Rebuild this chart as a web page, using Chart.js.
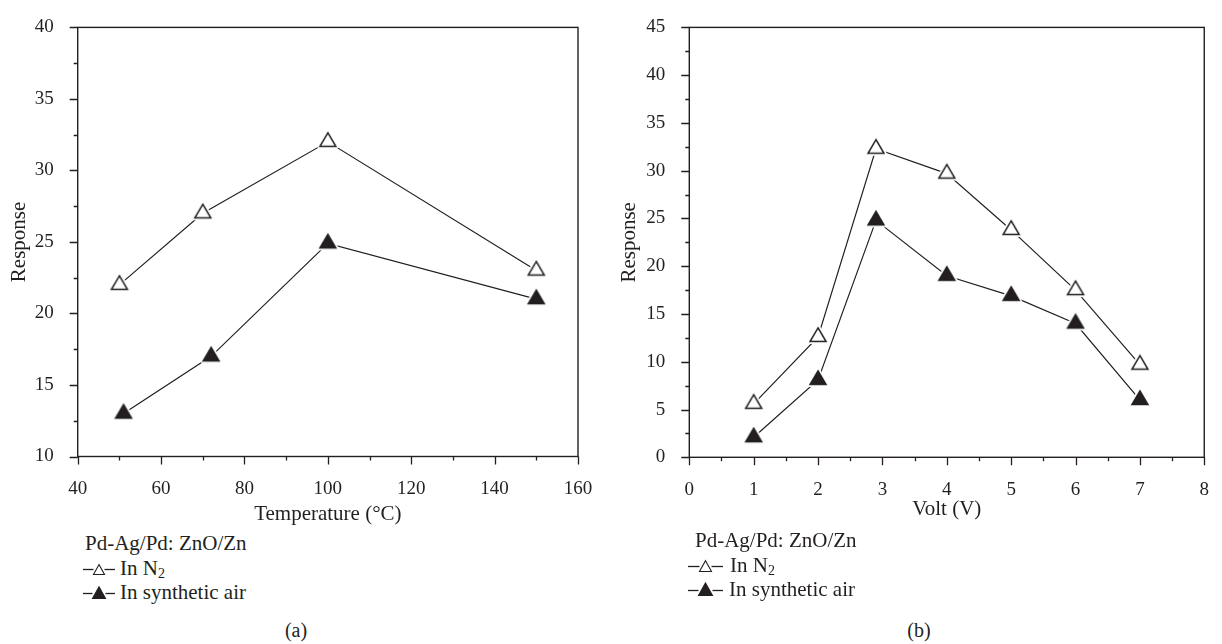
<!DOCTYPE html>
<html lang="en">
<head>
<meta charset="UTF-8">
<title>Response of Pd-Ag/Pd: ZnO/Zn sensor</title>
<script src="https://cdn.jsdelivr.net/npm/chart.js@4.4.1/dist/chart.umd.min.js"></script>
<style>
body{margin:0;background:#fff;width:1222px;height:644px;position:relative;overflow:hidden;font-family:"Liberation Serif","Times New Roman",serif;color:#231f20}
.panel{position:absolute;top:0;height:530px}
#panel-a{left:0;width:610px}
#panel-b{left:610px;width:612px}
.row{position:absolute;font-size:21px;line-height:24.5px;white-space:nowrap}
.row svg{display:inline-block;vertical-align:0}
.row sub{font-size:14px;vertical-align:-3px;line-height:0}
.caption{position:absolute;top:618px;font-size:20px;line-height:24px;transform:translateX(-50%)}
</style>
</head>
<body>
<div class="panel" id="panel-a"><canvas id="chart-a"></canvas></div>
<div class="panel" id="panel-b"><canvas id="chart-b"></canvas></div>

<div class="row" style="left:85px;top:530.5px">Pd-Ag/Pd: ZnO/Zn</div>
<div class="row" style="left:83px;top:555.5px" data-sym="open" data-w="32" data-t="11" data-gap="5">In N<sub>2</sub></div>
<div class="row" style="left:83px;top:579.5px" data-sym="filled" data-w="32" data-t="13" data-gap="5">In synthetic air</div>

<div class="row" style="left:695px;top:528.2px">Pd-Ag/Pd: ZnO/Zn</div>
<div class="row" style="left:688px;top:552.8px" data-sym="open" data-w="35" data-t="12" data-gap="7">In N<sub>2</sub></div>
<div class="row" style="left:688px;top:577.2px" data-sym="filled" data-w="35" data-t="14" data-gap="6">In synthetic air</div>

<div class="caption" style="left:296px">(a)</div>
<div class="caption" style="left:919px">(b)</div>

<script>
const INK = '#231f20';

// (a) response vs operating temperature
const tempN2X = [50, 70, 100, 150];
const tempN2Y = [22, 27, 32, 23];
const tempAirX = [51, 72, 100, 150];
const tempAirY = [13, 17, 24.9, 21];

// (b) response vs applied voltage
const voltN2X = [1, 2, 2.9, 4, 5, 6, 7];
const voltN2Y = [5.6, 12.6, 32.3, 29.7, 23.8, 17.5, 9.7];
const voltAirX = [1, 2, 2.9, 4, 5, 6, 7];
const voltAirY = [2.1, 8.1, 24.8, 19.0, 16.9, 14.0, 6.0];

const seriesLabels = ['In N2', 'In synthetic air'];

function pts(xs, ys){ return xs.map((x, i) => ({x: x, y: ys[i]})); }

// triangle marker with a white halo so the connecting line stops short of it
function triangleMarker(filled){
  const c = document.createElement('canvas');
  c.width = 28; c.height = 28;
  const g = c.getContext('2d');
  const w = 16, h = 13.6, cx = 14, cy = 14;
  const top = cy - h * 2 / 3, base = cy + h / 3;
  g.beginPath();
  g.moveTo(cx, top); g.lineTo(cx + w / 2, base); g.lineTo(cx - w / 2, base); g.closePath();
  g.lineJoin = 'round';
  g.strokeStyle = '#fff'; g.lineWidth = 5; g.stroke();
  g.fillStyle = filled ? INK : '#fff'; g.fill();
  g.lineJoin = 'miter';
  g.strokeStyle = INK; g.lineWidth = 1.5; g.stroke();
  return c;
}
const openTri = triangleMarker(false);
const filledTri = triangleMarker(true);

// box frame plus outward major/minor tick marks on the left and bottom axes
const frameTicks = {
  id: 'frameTicks',
  beforeDatasetsDraw(chart, args, opts){
    const {ctx, chartArea: a, scales: {x, y}} = chart;
    const isMajor = (v, min, step) => { const k = (v - min) / step; return Math.abs(k - Math.round(k)) < 1e-6; };
    ctx.save();
    ctx.strokeStyle = INK;
    ctx.lineWidth = 1.4;
    ctx.strokeRect(a.left, a.top, a.right - a.left, a.bottom - a.top);
    ctx.lineWidth = 1.3;
    ctx.beginPath();
    for (let v = x.min; v <= x.max + 1e-9; v += opts.xMinor){
      const px = Math.round(x.getPixelForValue(v)) + 0.5;
      ctx.moveTo(px, a.bottom); ctx.lineTo(px, a.bottom + (isMajor(v, x.min, opts.xMajor) ? 8 : 4));
    }
    for (let v = y.min; v <= y.max + 1e-9; v += opts.yMinor){
      const py = Math.round(y.getPixelForValue(v)) + 0.5;
      ctx.moveTo(a.left, py); ctx.lineTo(a.left - (isMajor(v, y.min, opts.yMajor) ? 8 : 4), py);
    }
    ctx.stroke();
    ctx.restore();
  }
};

function makeChart(id, cfg){
  const family = '"Liberation Serif","Times New Roman",serif';
  const tickFont = {family: family, size: 19};
  const titleFont = {family: family, size: 21};
  new Chart(document.getElementById(id), {
    type: 'scatter',
    data: {
      datasets: [
        {label: seriesLabels[0], data: pts(cfg.n2x, cfg.n2y), pointStyle: openTri},
        {label: seriesLabels[1], data: pts(cfg.airx, cfg.airy), pointStyle: filledTri}
      ].map(d => Object.assign(d, {showLine: true, borderColor: INK, borderWidth: 1.2, pointRadius: 8, backgroundColor: INK}))
    },
    options: {
      responsive: true,
      maintainAspectRatio: false,
      animation: false,
      events: [],
      layout: {padding: cfg.pad},
      plugins: {
        legend: {display: false},
        tooltip: {enabled: false},
        frameTicks: {xMinor: cfg.xStep / 2, xMajor: cfg.xStep, yMinor: 2.5, yMajor: 5}
      },
      scales: {
        x: {
          type: 'linear', min: cfg.xMin, max: cfg.xMax,
          grid: {display: false}, border: {display: false},
          ticks: {stepSize: cfg.xStep, color: INK, font: tickFont, padding: 13, maxRotation: 0},
          title: {display: true, text: cfg.xTitle, color: INK, font: titleFont, padding: {top: 0, bottom: cfg.xTitlePad}},
          afterFit: s => { s.height = cfg.xHeight; }
        },
        y: {
          min: cfg.yMin, max: cfg.yMax,
          grid: {display: false}, border: {display: false},
          ticks: {stepSize: 5, color: INK, font: tickFont, padding: 16},
          title: {display: true, text: 'Response', color: INK, font: titleFont, padding: {top: 7, bottom: 0}},
          afterFit: s => { s.width = cfg.yWidth; }
        }
      }
    },
    plugins: [frameTicks]
  });
}

makeChart('chart-a', {
  n2x: tempN2X, n2y: tempN2Y, airx: tempAirX, airy: tempAirY,
  xMin: 40, xMax: 160, xStep: 20, yMin: 10, yMax: 40,
  xTitle: 'Temperature (\u00B0C)', xTitlePad: 2.5,
  pad: {top: 16.7, right: 32, bottom: 0, left: 0},
  xHeight: 73.5, yWidth: 77.7
});
makeChart('chart-b', {
  n2x: voltN2X, n2y: voltN2Y, airx: voltAirX, airy: voltAirY,
  xMin: 0, xMax: 8, xStep: 1, yMin: 0, yMax: 45,
  xTitle: 'Volt (V)', xTitlePad: 7.5,
  pad: {top: 19, right: 4.7, bottom: 0, left: 0},
  xHeight: 72.7, yWidth: 79.3
});

// legend symbols: short dash, triangle, short dash
document.querySelectorAll('.row[data-sym]').forEach(row => {
  const w = +row.dataset.w, t = +row.dataset.t, gap = +row.dataset.gap;
  const filled = row.dataset.sym === 'filled';
  const cx = w / 2, h = t * 0.9;
  const svg = '<svg width="' + w + '" height="14" viewBox="0 0 ' + w + ' 14" style="margin-right:' + gap + 'px">' +
    '<line x1="0" y1="8.5" x2="' + (cx - t / 2) + '" y2="8.5" stroke="' + INK + '" stroke-width="1.3"/>' +
    '<line x1="' + (cx + t / 2) + '" y1="8.5" x2="' + w + '" y2="8.5" stroke="' + INK + '" stroke-width="1.3"/>' +
    '<path d="M' + cx + ' ' + (13.5 - h) + ' L' + (cx + t / 2) + ' 13.5 L' + (cx - t / 2) + ' 13.5 Z" fill="' + (filled ? INK : '#fff') + '" stroke="' + INK + '" stroke-width="1.1"/>' +
    '</svg>';
  row.insertAdjacentHTML('afterbegin', svg);
});
</script>
</body>
</html>
